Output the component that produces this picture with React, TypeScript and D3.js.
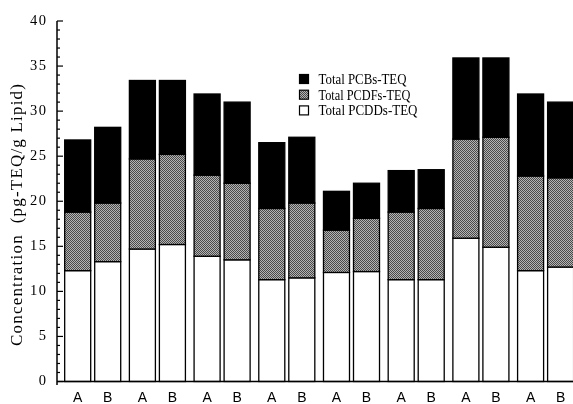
import React, { useEffect, useRef } from "react";
import * as d3 from "d3";

// 8 sample groups, each measured as A and B
const groups = ["1", "2", "3", "4", "5", "6", "7", "8"];
const subs = ["A", "B"];

// segment sizes, in the order groups x subs (A, B, A, B, ...)
const pcdds = [12.3, 13.3, 14.7, 15.2, 13.9, 13.5, 11.3, 11.5, 12.1, 12.2, 11.3, 11.3, 15.9, 14.9, 12.3, 12.7];
const pcdfs = [6.5, 6.5, 10.0, 10.0, 9.0, 8.5, 7.9, 8.3, 4.7, 5.9, 7.5, 7.9, 11.0, 12.2, 10.5, 9.9];
const pcbs = [8.0, 8.4, 8.7, 8.2, 9.0, 9.0, 7.3, 7.3, 4.3, 3.9, 4.6, 4.3, 9.0, 8.8, 9.1, 8.4];

const yTicks = [0, 5, 10, 15, 20, 25, 30, 35, 40];
const legendLabels = ["Total PCBs-TEQ", "Total PCDFs-TEQ", "Total PCDDs-TEQ"];

export default function App() {
  const ref = useRef<SVGSVGElement>(null);

  useEffect(() => {
    const width = 573;
    const svg = d3.select(ref.current);
    svg.selectAll("*").remove();

    // halftone-ish grey for the PCDF segments
    const defs = svg.append("defs");
    const pat = defs
      .append("pattern")
      .attr("id", "dots")
      .attr("width", 2)
      .attr("height", 2)
      .attr("patternUnits", "userSpaceOnUse");
    pat.append("rect").attr("width", 2).attr("height", 2).attr("fill", "#b4b4b4");
    pat.append("rect").attr("width", 1).attr("height", 1).attr("fill", "#4a4a4a");
    pat.append("rect").attr("x", 1).attr("y", 1).attr("width", 1).attr("height", 1).attr("fill", "#4a4a4a");

    const y = d3.scaleLinear().domain([0, 40]).range([381.5, 21]);
    const x0 = d3
      .scaleBand()
      .domain(groups)
      .range([60.35, 577.95])
      .paddingInner(0.134)
      .paddingOuter(0.067);
    const x1 = d3.scaleBand().domain(subs).range([0, x0.bandwidth()]).paddingInner(0.1333);

    const rows = [];
    groups.forEach((g, gi) => {
      subs.forEach((s, si) => {
        const i = gi * 2 + si;
        rows.push({ g, s, vals: [pcdds[i], pcdfs[i], pcbs[i]] });
      });
    });

    const fills = ["#fff", "url(#dots)", "#000"];

    rows.forEach((r) => {
      let base = 0;
      r.vals.forEach((v, k) => {
        svg
          .append("rect")
          .attr("x", x0(r.g) + x1(r.s))
          .attr("y", y(base + v))
          .attr("width", x1.bandwidth())
          .attr("height", y(base) - y(base + v))
          .attr("fill", fills[k])
          .attr("stroke", "#000")
          .attr("stroke-width", 1.3);
        base += v;
      });
    });

    // y axis with minor ticks every 1
    const axisX = 57;
    svg
      .append("line")
      .attr("x1", axisX)
      .attr("x2", axisX)
      .attr("y1", y(40))
      .attr("y2", 385)
      .attr("stroke", "#000")
      .attr("stroke-width", 1.5);
    d3.range(0, 41).forEach((t) => {
      const major = t % 5 === 0;
      svg
        .append("line")
        .attr("x1", axisX)
        .attr("x2", axisX + (major ? 6 : 3))
        .attr("y1", y(t))
        .attr("y2", y(t))
        .attr("stroke", "#000")
        .attr("stroke-width", 1.2);
    });
    svg
      .selectAll(".ytick")
      .data(yTicks)
      .enter()
      .append("text")
      .attr("x", 47.5)
      .attr("y", (d) => y(d) + 3.5)
      .attr("text-anchor", "end")
      .attr("font-family", "Liberation Serif, Times New Roman, serif")
      .attr("font-size", 14.5)
      .attr("letter-spacing", 1.5)
      .text((d) => d);

    // x axis
    svg
      .append("line")
      .attr("x1", axisX)
      .attr("x2", width)
      .attr("y1", y(0))
      .attr("y2", y(0))
      .attr("stroke", "#000")
      .attr("stroke-width", 1.5);
    rows.forEach((r) => {
      svg
        .append("text")
        .attr("x", x0(r.g) + x1(r.s) + x1.bandwidth() / 2)
        .attr("y", 401.5)
        .attr("text-anchor", "middle")
        .attr("font-family", "Liberation Sans, Arial, sans-serif")
        .attr("font-size", 14)
        .text(r.s);
    });

    // y label
    svg
      .append("text")
      .attr("transform", `translate(22,215) rotate(-90)`)
      .attr("text-anchor", "middle")
      .attr("font-family", "Liberation Serif, Times New Roman, serif")
      .attr("font-size", 17)
      .attr("textLength", 262)
      .attr("lengthAdjust", "spacing")
      .text("Concentration\u00a0\u00a0(pg-TEQ/g Lipid)");

    // legend
    const legendFills = ["#000", "url(#dots)", "#fff"];
    const legendLens = [88, 92, 99];
    legendLabels.forEach((lab, i) => {
      const ly = 74.5 + i * 15.7;
      svg
        .append("rect")
        .attr("x", 299.5)
        .attr("y", ly)
        .attr("width", 9)
        .attr("height", 9)
        .attr("fill", legendFills[i])
        .attr("stroke", "#000")
        .attr("stroke-width", 1.2);
      svg
        .append("text")
        .attr("x", 318.5)
        .attr("y", ly + 9.5)
        .attr("font-family", "Liberation Serif, Times New Roman, serif")
        .attr("font-size", 14)
        .attr("textLength", legendLens[i])
        .attr("lengthAdjust", "spacingAndGlyphs")
        .text(lab);
    });
  }, []);

  return (
    <svg
      ref={ref}
      width={573}
      height={404}
      style={{ position: "fixed", left: 0, top: 0, display: "block" }}
    ></svg>
  );
}
